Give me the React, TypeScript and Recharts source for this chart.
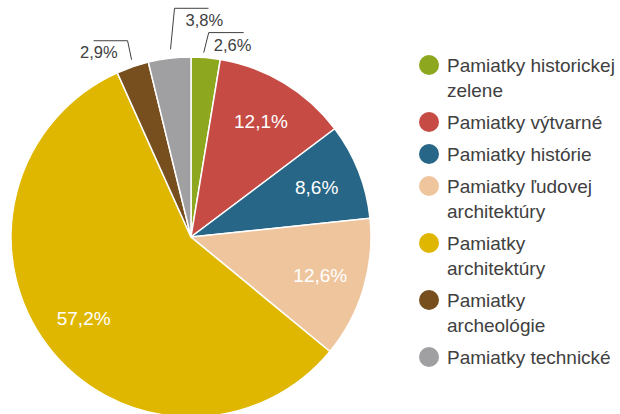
import { PieChart, Pie, Cell, Legend } from 'recharts';

const categories = [
  'Pamiatky historickej zelene',
  'Pamiatky výtvarné',
  'Pamiatky histórie',
  'Pamiatky ľudovej architektúry',
  'Pamiatky architektúry',
  'Pamiatky archeológie',
  'Pamiatky technické',
];
const shares = [2.6, 12.1, 8.6, 12.6, 57.2, 2.9, 3.8];
const colors = ['#8DA81F', '#C64B44', '#276686', '#EFC59E', '#DFB700', '#774F1F', '#A0A0A2'];

const data = categories.map((name, i) => ({ name, value: shares[i] }));

const FONT = '"Liberation Sans", Arial, sans-serif';
const TEXT = '#404040';
const RAD = Math.PI / 180;

// thin slices get a hand-placed callout (offsets from the slice's outer edge)
type Callout = { start: number[]; elbow: number[]; arm: number; text: number[]; anchor: 'start' | 'end' };
const callouts: Record<number, Callout> = {
  0: { start: [-2, -5], elbow: [3, -25], arm: 35, text: [5, 18], anchor: 'start' },
  5: { start: [-1, -7], elbow: [-5, -26], arm: -34, text: [-10, 17], anchor: 'end' },
  6: { start: [1, -9], elbow: [5, -50], arm: 34, text: [11, 18], anchor: 'start' },
};

const fmt = (v: number) => `${v.toFixed(1).replace('.', ',')}%`;

function renderLabel(props: any) {
  const { cx, cy, midAngle, outerRadius, index } = props;
  const value = props.value ?? props.payload?.value;
  const cos = Math.cos(-midAngle * RAD);
  const sin = Math.sin(-midAngle * RAD);
  const c = callouts[index];

  if (!c) {
    const r = outerRadius * 0.75;
    return (
      <text
        x={cx + r * cos}
        y={cy + r * sin}
        fill="#fff"
        fontSize={19}
        fontFamily={FONT}
        textAnchor="middle"
        dominantBaseline="central"
      >
        {fmt(value)}
      </text>
    );
  }

  const ex = cx + outerRadius * cos;
  const ey = cy + outerRadius * sin;
  const sx = ex + c.start[0];
  const sy = ey + c.start[1];
  const kx = ex + c.elbow[0];
  const ky = ey + c.elbow[1];
  return (
    <g>
      <polyline
        points={`${sx},${sy} ${kx},${ky} ${kx + c.arm},${ky}`}
        fill="none"
        stroke={TEXT}
        strokeWidth={1}
      />
      <text
        x={kx + c.text[0]}
        y={ky + c.text[1]}
        fill={TEXT}
        fontSize={16.5}
        fontFamily={FONT}
        textAnchor={c.anchor}
      >
        {fmt(value)}
      </text>
    </g>
  );
}

// keep the data order (recharts sorts legend items by name otherwise)
function renderLegend() {
  return (
    <ul style={{ listStyle: 'none', margin: 0, padding: 0, fontFamily: FONT }}>
      {categories.map((name, i) => (
        <li key={name} style={{ display: 'flex', alignItems: 'flex-start', marginBottom: 7 }}>
          <span
            style={{
              width: 20,
              height: 20,
              marginTop: 2.5,
              borderRadius: '50%',
              background: colors[i],
              flex: '0 0 auto',
            }}
          />
          <span style={{ marginLeft: 8, fontSize: 19, lineHeight: '25px', color: TEXT, width: 173 }}>
            {name}
          </span>
        </li>
      ))}
    </ul>
  );
}

export default function App() {
  return (
    <div style={{ position: 'absolute', left: 0, top: 0, background: '#fff' }}>
      <PieChart width={620} height={414} margin={{ top: 0, right: 0, bottom: 0, left: 0 }}>
        <Pie
          data={data}
          dataKey="value"
          nameKey="name"
          cx={191}
          cy={237}
          outerRadius={180}
          startAngle={90}
          endAngle={-270}
          stroke="#fff"
          strokeWidth={1.5}
          label={renderLabel}
          labelLine={false}
          isAnimationActive={false}
        >
          {data.map((_, i) => (
            <Cell key={i} fill={colors[i]} />
          ))}
        </Pie>
        <Legend
          content={renderLegend}
          layout="vertical"
          align="right"
          verticalAlign="top"
          wrapperStyle={{ left: 419, top: 52.5, width: 201 }}
        />
      </PieChart>
    </div>
  );
}
